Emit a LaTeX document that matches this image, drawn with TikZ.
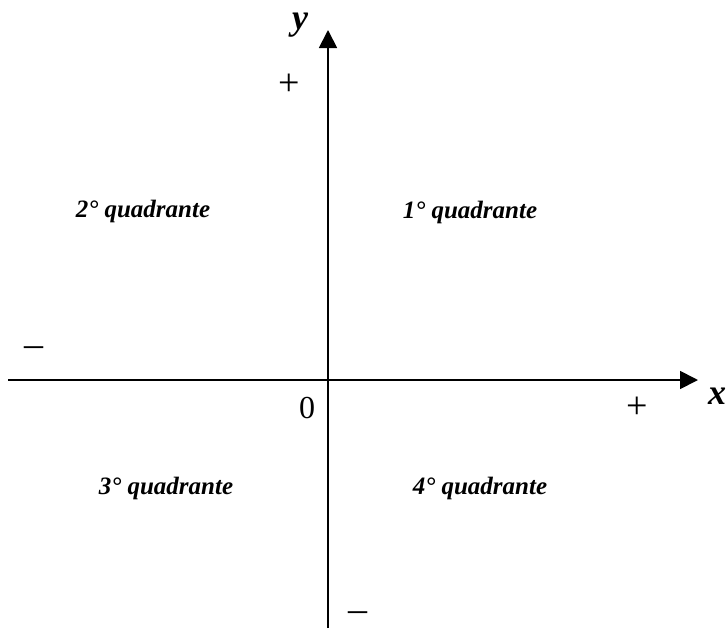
\documentclass[tikz,border=0pt]{standalone}
\usepackage{fontspec}
\setmainfont{Liberation Serif}
\usetikzlibrary{arrows.meta, positioning}

\begin{document}
\begin{tikzpicture}[x=1pt, y=-1pt,
        ax/.style={line width=1.8pt, -{Triangle[length=18pt, width=18pt]}},
        quad/.style={font=\fontsize{25}{28}\selectfont\bfseries\itshape, inner sep=0pt},
        sgn/.style={font=\fontsize{32}{36}\selectfont, inner sep=0pt},
        pm/.style={font=\fontsize{38}{42}\selectfont, inner sep=0pt},
        nome/.style={font=\fontsize{36}{40}\selectfont\bfseries\itshape, inner sep=0pt}]
        \useasboundingbox (0,0) rectangle (728,629);
        % assi
        \coordinate (xmin) at (8,380);
        \coordinate (xmax) at (698,380);
        \coordinate (ymin) at (328,628);
        \coordinate (ymax) at (328,30);
        \draw[ax] (xmin) -- (xmax);
        \draw[ax] (ymin) -- (ymax);
        \node[nome] (ly) at (300,25) {y};
        \node[nome] (lx) at (717,396) {x};
        \node[sgn] (origine) at (307,408) {0};
        \node[pm] (ypiu) at (289,85) {+};
        \node[pm] (xpiu) at (637,408) {+};
        \node[pm] (xmeno) at (34,352) {--};
        \node[pm] (ymeno) at (358,617) {--};
        % quadranti
        \node[quad] (q1) at (470,212) {1° quadrante};
        \node[quad] (q2) at (143,211) {2° quadrante};
        \node[quad] (q3) at (166,488) {3° quadrante};
        \node[quad] (q4) at (480,488) {4° quadrante};
    \end{tikzpicture}
\end{document}
